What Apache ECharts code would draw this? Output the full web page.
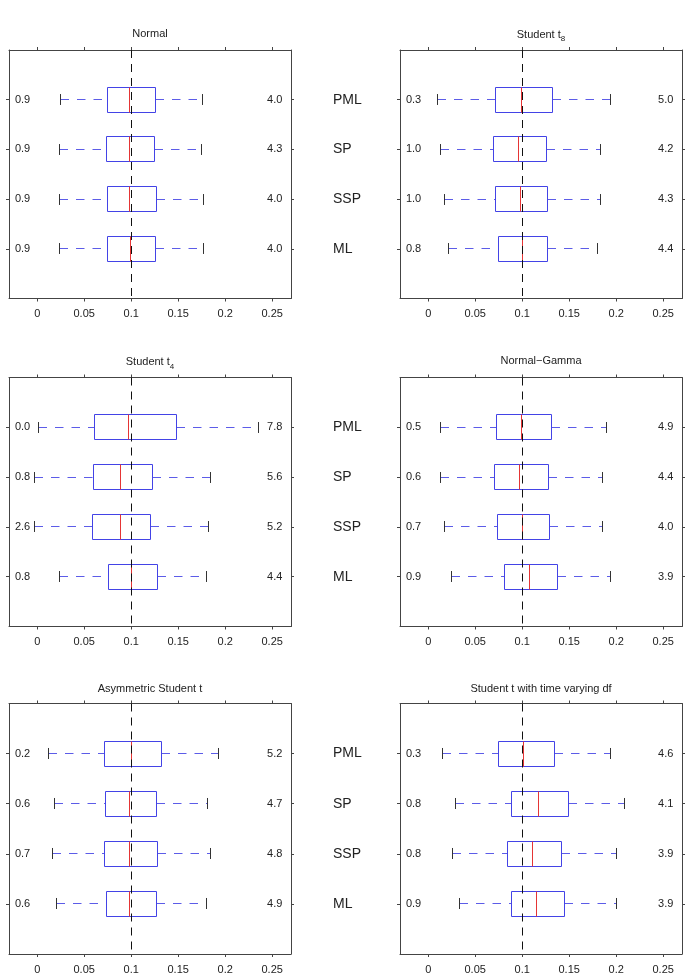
<!DOCTYPE html>
<html><head><meta charset="utf-8">
<script src="https://cdn.jsdelivr.net/npm/echarts@6/dist/echarts.min.js"></script>
<style>html,body{margin:0;padding:0;background:#fff}#c{width:685px;height:975px}</style>
</head><body><div id="c"></div>
<script>
// ---------------- data ----------------
const methods = ['PML', 'SP', 'SSP', 'ML'];
const panelTitles = ['Normal', 'Student t{s|8}', 'Student t{s|4}', 'Normal\u2212Gamma',
  'Asymmetric Student t', 'Student t with time varying df'];
const xTicks = [0, 0.05, 0.1, 0.15, 0.2, 0.25];
const trueValue = 0.1;

// each row: [lower whisker, q1, median, q3, upper whisker], rows = PML, SP, SSP, ML
const normalBoxes = [
  [0.0244, 0.0747, 0.0984, 0.1257, 0.1763],
  [0.0234, 0.0740, 0.0977, 0.1250, 0.1753],
  [0.0234, 0.0747, 0.0984, 0.1264, 0.1774],
  [0.0241, 0.0747, 0.0988, 0.1260, 0.1767]];
const studentT8Boxes = [
  [0.0100, 0.0715, 0.0996, 0.1323, 0.1938],
  [0.0128, 0.0693, 0.0957, 0.1262, 0.1831],
  [0.0171, 0.0718, 0.0981, 0.1273, 0.1831],
  [0.0217, 0.0750, 0.0999, 0.1273, 0.1803]];
const studentT4Boxes = [
  [0.0014, 0.0606, 0.0970, 0.1480, 0.2355],
  [-0.0025, 0.0595, 0.0882, 0.1222, 0.1841],
  [-0.0028, 0.0584, 0.0882, 0.1204, 0.1820],
  [0.0234, 0.0754, 0.1006, 0.1275, 0.1799]];
const normalGammaBoxes = [
  [0.0135, 0.0722, 0.0996, 0.1312, 0.1895],
  [0.0135, 0.0704, 0.0967, 0.1277, 0.1849],
  [0.0174, 0.0736, 0.1006, 0.1294, 0.1849],
  [0.0252, 0.0814, 0.1078, 0.1376, 0.1942]];
const asymTBoxes = [
  [0.0120, 0.0719, 0.1006, 0.1324, 0.1926],
  [0.0181, 0.0722, 0.0977, 0.1271, 0.1813],
  [0.0159, 0.0719, 0.0981, 0.1282, 0.1841],
  [0.0205, 0.0733, 0.0981, 0.1271, 0.1802]];
const tvdfBoxes = [
  [0.0149, 0.0743, 0.1014, 0.1348, 0.1938],
  [0.0288, 0.0889, 0.1174, 0.1494, 0.2087],
  [0.0260, 0.0839, 0.1110, 0.1415, 0.1999],
  [0.0334, 0.0889, 0.1149, 0.1447, 0.2002]];

const normalLeft = ['0.9', '0.9', '0.9', '0.9'];
const normalRight = ['4.0', '4.3', '4.0', '4.0'];
const studentT8Left = ['0.3', '1.0', '1.0', '0.8'];
const studentT8Right = ['5.0', '4.2', '4.3', '4.4'];
const studentT4Left = ['0.0', '0.8', '2.6', '0.8'];
const studentT4Right = ['7.8', '5.6', '5.2', '4.4'];
const normalGammaLeft = ['0.5', '0.6', '0.7', '0.9'];
const normalGammaRight = ['4.9', '4.4', '4.0', '3.9'];
const asymTLeft = ['0.2', '0.6', '0.7', '0.6'];
const asymTRight = ['5.2', '4.7', '4.8', '4.9'];
const tvdfLeft = ['0.3', '0.8', '0.8', '0.9'];
const tvdfRight = ['4.6', '4.1', '3.9', '3.9'];

// ---------------- layout / style ----------------
const panelBoxes = [normalBoxes, studentT8Boxes, studentT4Boxes, normalGammaBoxes, asymTBoxes, tvdfBoxes];
const panelLeft = [normalLeft, studentT8Left, studentT4Left, normalGammaLeft, asymTLeft, tvdfLeft];
const panelRight = [normalRight, studentT8Right, studentT4Right, normalGammaRight, asymTRight, tvdfRight];

const FONT = '"Liberation Sans", Arial, Helvetica, sans-serif';
const colLeft = [9, 400], gridW = 282;
const rowTop = [50, 377.5, 703.5], rowH = [248.5, 249, 251];
const titleCY = [34, 361.5, 689];
const boxColor = '#4343e6', whiskerColor = '#5c5ce8', medColor = '#e53535', capColor = '#333', axisColor = '#444', textColor = '#222';
const leftLabelX = -0.0237, rightLabelX = 0.2445;

function crisp(v) { return Math.round(v - 0.5) + 0.5; }

const grids = [], xAxes = [], yAxes = [], series = [], titles = [];
for (let i = 0; i < 6; i++) {
  const col = i % 2, row = Math.floor(i / 2);
  grids.push({ left: colLeft[col], top: rowTop[row], width: gridW, height: rowH[row], show: false });
  const xCommon = {
    gridIndex: i, type: 'value', min: -0.03, max: 0.27,
    axisLine: { show: true, onZero: false, lineStyle: { color: axisColor, width: 1 } },
    axisTick: { show: true, customValues: xTicks, length: 3, lineStyle: { color: axisColor } },
    splitLine: { show: false }
  };
  xAxes.push(Object.assign({}, xCommon, {
    position: 'bottom',
    axisLabel: { show: true, customValues: xTicks, fontSize: 11, fontFamily: FONT, color: textColor, margin: 10,
      formatter: v => String(v) }
  }));
  xAxes.push(Object.assign({}, xCommon, { position: 'top', axisLabel: { show: false } }));
  const yCommon = {
    gridIndex: i, type: 'value', min: 0, max: 5, inverse: true,
    axisLine: { show: true, onZero: false, lineStyle: { color: axisColor, width: 1 } },
    axisTick: { show: true, customValues: [1, 2, 3, 4], length: 3, lineStyle: { color: axisColor } },
    splitLine: { show: false }
  };
  yAxes.push(Object.assign({}, yCommon, {
    position: 'left',
    axisLabel: col === 1 ? { show: true, customValues: [1, 2, 3, 4], formatter: v => methods[v - 1] || '',
      align: 'left', margin: 67, fontSize: 14, fontFamily: FONT, color: textColor } : { show: false }
  }));
  yAxes.push(Object.assign({}, yCommon, { position: 'right', axisLabel: { show: false } }));

  const boxes = panelBoxes[i], lefts = panelLeft[i], rights = panelRight[i];
  series.push({
    type: 'custom', xAxisIndex: 2 * i, yAxisIndex: 2 * i,
    data: boxes.map((b, j) => [j + 1].concat(b)),
    encode: { x: [1, 2, 3, 4, 5], y: 0 },
    renderItem: (params, api) => {
      const y = api.value(0);
      const cyRaw = api.coord([0, y])[1];
      const cy = crisp(cyRaw);
      const half = api.size([0, 0.5])[1] / 2;
      const capHalf = api.size([0, 0.22])[1] / 2;
      const xs = [1, 2, 3, 4, 5].map(k => crisp(api.coord([api.value(k), y])[0]));
      const top = crisp(cyRaw - half), bot = crisp(cyRaw + half);
      const idx = params.dataIndex;
      const lp = api.coord([leftLabelX, y]), rp = api.coord([rightLabelX, y]);
      const dash = [8.5, 8];
      return {
        type: 'group', children: [
          { type: 'line', shape: { x1: xs[0], y1: cy, x2: xs[1], y2: cy }, style: { stroke: whiskerColor, lineWidth: 1, lineDash: dash } },
          { type: 'line', shape: { x1: xs[3], y1: cy, x2: xs[4], y2: cy }, style: { stroke: whiskerColor, lineWidth: 1, lineDash: dash } },
          { type: 'line', shape: { x1: xs[0], y1: cy - capHalf, x2: xs[0], y2: cy + capHalf }, style: { stroke: capColor, lineWidth: 1 } },
          { type: 'line', shape: { x1: xs[4], y1: cy - capHalf, x2: xs[4], y2: cy + capHalf }, style: { stroke: capColor, lineWidth: 1 } },
          { type: 'rect', shape: { x: xs[1], y: top, width: xs[3] - xs[1], height: bot - top }, style: { fill: 'none', stroke: boxColor, lineWidth: 1 } },
          { type: 'line', shape: { x1: xs[2], y1: top, x2: xs[2], y2: bot }, style: { stroke: medColor, lineWidth: 1 } },
          { type: 'text', x: lp[0], y: cyRaw, style: { text: lefts[idx], fill: textColor, fontSize: 11, fontFamily: FONT, align: 'left', verticalAlign: 'middle' } },
          { type: 'text', x: rp[0], y: cyRaw, style: { text: rights[idx], fill: textColor, fontSize: 11, fontFamily: FONT, align: 'left', verticalAlign: 'middle' } }
        ]
      };
    }
  });
  series.push({
    type: 'custom', xAxisIndex: 2 * i, yAxisIndex: 2 * i, z: 5,
    data: [[trueValue, 0]],
    encode: { x: 0, y: 1 },
    renderItem: (params, api) => {
      const a = api.coord([api.value(0), 0]), b = api.coord([api.value(0), 5]);
      const x = crisp(a[0]);
      return { type: 'line', shape: { x1: x, y1: a[1], x2: x, y2: b[1] }, style: { stroke: '#111', lineWidth: 1, lineDash: [8, 6] } };
    }
  });
  const isRich = panelTitles[i].indexOf('{s|') >= 0;
  titles.push({
    text: panelTitles[i], left: colLeft[col] + gridW / 2, top: titleCY[row] - 6 - (isRich ? 2 : 0),
    textAlign: 'center', padding: 0,
    textStyle: { fontSize: 11, fontWeight: 'normal', color: textColor, fontFamily: FONT,
      rich: { s: { fontSize: 8, padding: [9, 0, 0, 0], color: textColor, fontFamily: FONT } } }
  });
}

const chart = echarts.init(document.getElementById('c'), null, { renderer: 'canvas' });
chart.setOption({
  animation: false,
  backgroundColor: '#fff',
  title: titles,
  grid: grids,
  xAxis: xAxes,
  yAxis: yAxes,
  series: series
});
</script></body></html>
